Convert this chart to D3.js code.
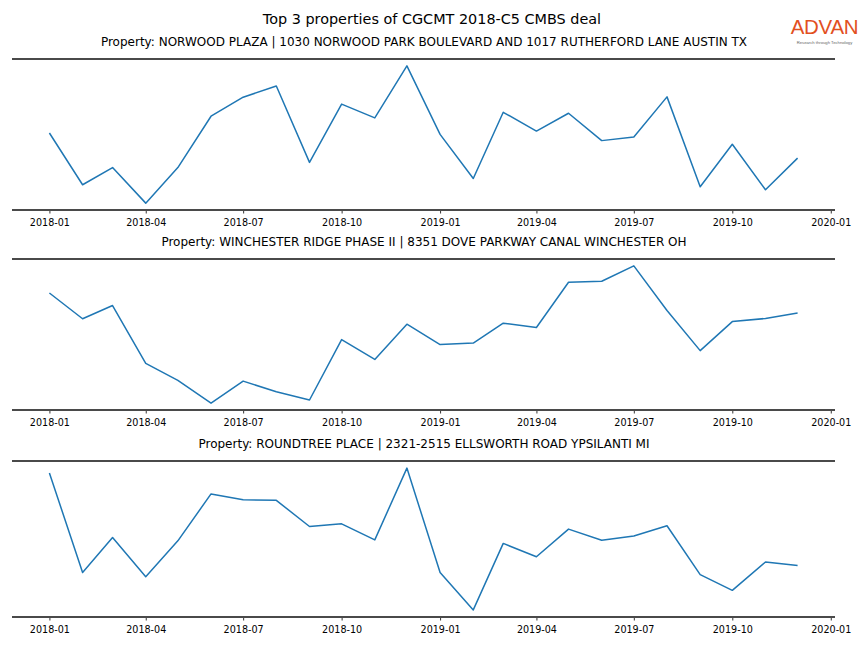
<!DOCTYPE html>
<html><head><meta charset="utf-8">
<script src="https://cdn.jsdelivr.net/npm/d3@7"></script>
<style>body{margin:0;background:#fff}svg{display:block}</style>
</head><body><div id="chart"></div>
<script>
const months = ["2018-01","2018-02","2018-03","2018-04","2018-05","2018-06","2018-07","2018-08","2018-09","2018-10","2018-11","2018-12",
"2019-01","2019-02","2019-03","2019-04","2019-05","2019-06","2019-07","2019-08","2019-09","2019-10","2019-11","2019-12"];
const titles = [
 "Property: NORWOOD PLAZA | 1030 NORWOOD PARK BOULEVARD AND 1017 RUTHERFORD LANE AUSTIN TX",
 "Property: WINCHESTER RIDGE PHASE II | 8351 DOVE PARKWAY CANAL WINCHESTER OH",
 "Property: ROUNDTREE PLACE | 2321-2515 ELLSWORTH ROAD YPSILANTI MI"];
const norwood = [76.7,24.3,41.7,5.7,41.7,93.7,113,124.3,47,106,92,144.7,75.3,30.7,97.7,78.7,96.7,69,72.7,113.3,22.3,65.3,19.3,51.3];
const winchester = [118.3,91,105,43.7,25.7,1.7,25,13.7,5,69,48,85.3,63.7,65.3,86.3,81.7,129.7,130.7,147,99.7,57.3,88,91.3,97];
const roundtree = [144.7,43,78.7,38.7,75.3,123.3,117.3,116.7,90,92.7,76.3,149.7,43,4.7,72.7,59,87.3,76,80.3,90.7,40.7,24.7,53.7,50];
const tickLabels = ["2018-01","2018-04","2018-07","2018-10","2019-01","2019-04","2019-07","2019-10","2020-01"];
const mainTitle = "Top 3 properties of CGCMT 2018-C5 CMBS deal";

const W = 864, H = 648;
const svg = d3.select("#chart").append("svg").attr("width", W).attr("height", H)
  .style("font-family", "'DejaVu Sans', sans-serif");

const parse = d3.timeParse("%Y-%m");
const dates = months.map(parse);
const t0 = dates[0], t1 = dates[dates.length-1];
const span = t1 - t0;
const x = d3.scaleTime()
  .domain([new Date(+t0 - span*0.05), new Date(+t1 + span*0.05)])
  .range([12, 835]);

svg.append("text").attr("x", 432).attr("y", 24).attr("text-anchor","middle")
  .attr("font-size", 14.4).attr("fill","#000").text(mainTitle);

// logo
svg.append("text").attr("x", 824.5).attr("y", 33.5).attr("text-anchor","middle")
  .attr("font-family","'Liberation Sans', Arial, sans-serif").attr("font-size", 20.5)
  .attr("fill","#E2501F").attr("letter-spacing", -0.3).text("ADVAN");
svg.append("text").attr("x", 824.5).attr("y", 43.5).attr("text-anchor","middle")
  .attr("font-family","'Liberation Sans', Arial, sans-serif").attr("font-size", 4.2)
  .attr("fill","#666").text("Research through Technology");

const panels = [
  {vals: norwood, top: 59, bottom: 210, title: titles[0]},
  {vals: winchester, top: 259, bottom: 410, title: titles[1]},
  {vals: roundtree, top: 461, bottom: 617, title: titles[2]}
];

panels.forEach(p => {
  const g = svg.append("g");
  const mn = d3.min(p.vals), mx = d3.max(p.vals), r = mx - mn;
  const y = d3.scaleLinear().domain([mn - r*0.05, mx + r*0.05]).range([p.bottom, p.top]);
  g.append("text").attr("x", 424).attr("y", p.top - 13).attr("text-anchor","middle")
    .attr("font-size", 12).attr("fill","#000").text(p.title);
  const line = d3.line().x((d,i)=>x(dates[i])).y(d=>y(d));
  g.append("path").datum(p.vals).attr("d", line).attr("fill","none")
    .attr("stroke","#1f77b4").attr("stroke-width",1.5).attr("stroke-linejoin","round");
  const ax = d3.axisBottom(x).tickValues(tickLabels.map(parse))
    .tickFormat(d3.timeFormat("%Y-%m")).tickSize(3.5).tickSizeOuter(0);
  const ag = g.append("g").attr("transform", `translate(0,${p.bottom})`).call(ax);
  ag.select(".domain").remove();
  ag.selectAll(".tick line").attr("stroke","#000").attr("stroke-width",0.8);
  ag.selectAll(".tick text").attr("font-size", 9.6).attr("font-family","'DejaVu Sans', sans-serif")
    .attr("fill","#000").attr("dy", "0.71em").attr("y", 9.5);
  [p.top, p.bottom].forEach(yy => g.append("line").attr("x1",12).attr("x2",835)
    .attr("y1",yy).attr("y2",yy).attr("stroke","#4a4a4a").attr("stroke-width",1.8));
});
</script></body></html>
